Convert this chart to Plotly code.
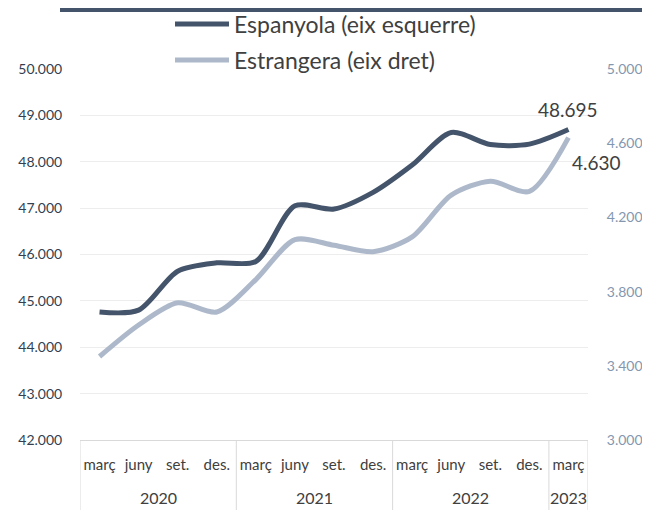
import plotly.graph_objects as go

years = ["2020"] * 4 + ["2021"] * 4 + ["2022"] * 4 + ["2023"]
quarters = ["març", "juny", "set.", "des."] * 3 + ["març"]
espanyola = [44760, 44800, 45640, 45820, 45850, 47050, 46980, 47340, 47930, 48630, 48370, 48380, 48695]
estrangera = [3450, 3620, 3740, 3690, 3865, 4080, 4050, 4015, 4095, 4320, 4395, 4340, 4630]
left_ticks = list(range(42000, 50001, 1000))
right_ticks = [3000, 3400, 3800, 4200, 4600, 5000]

FONT = "Lato"
DARK = "#44546A"
LIGHT = "#ADB9CA"
GRIDC = "#D9D9D9"

# page body has an 8px margin: figure is sized/placed to compensate
W, H = 642, 502
ML, MR, MT, MB = 72, 62, 61, 70
PH = H - MT - MB
PW = W - ML - MR

def fmt(v):
    return f"{v:,}".replace(",", ".")

idx = list(range(len(quarters)))

fig = go.Figure()
fig.add_trace(go.Scatter(
    x=idx, y=espanyola, mode="lines", name="Espanyola (eix esquerre)",
    line=dict(color=DARK, width=5, shape="spline", smoothing=0.8),
    legendgroup="a", yaxis="y"))
fig.add_trace(go.Scatter(
    x=idx, y=estrangera, mode="lines", name="Estrangera (eix dret)",
    line=dict(color=LIGHT, width=5, shape="spline", smoothing=0.8),
    legendgroup="b", yaxis="y2"))

fig.add_annotation(x=idx[-1], y=espanyola[-1], xref="x", yref="y",
                   text=fmt(espanyola[-1]), showarrow=False, yshift=20,
                   font=dict(family=FONT, size=19, color="#404040"))
fig.add_annotation(x=idx[-1], y=estrangera[-1], xref="x", yref="y2",
                   text=fmt(estrangera[-1]), showarrow=False, xshift=28, yshift=-25,
                   font=dict(family=FONT, size=19, color="#404040"))

# year group labels and dividers
uniq_years = []
for y in years:
    if y not in uniq_years:
        uniq_years.append(y)
bottom = -(MB + 10) / PH
for yr in uniq_years:
    ii = [i for i, y in enumerate(years) if y == yr]
    fig.add_annotation(x=sum(ii) / len(ii), y=-(57 / PH), xref="x", yref="paper",
                       text=yr, showarrow=False, yanchor="middle",
                       font=dict(family=FONT, size=16, color="#404040"))
    fig.add_shape(type="line", xref="x", yref="paper", x0=ii[0] - 0.5, x1=ii[0] - 0.5,
                  y0=0, y1=bottom, line=dict(color=GRIDC, width=1))
fig.add_shape(type="line", xref="x", yref="paper", x0=idx[-1] + 0.5, x1=idx[-1] + 0.5,
              y0=0, y1=bottom, line=dict(color=GRIDC, width=1))

# top dark band
fig.add_shape(type="rect", xref="paper", yref="paper", layer="below",
              x0=(52 - ML) / PW, x1=1.3,
              y0=1 + (MT - 4) / PH, y1=1.3, fillcolor=DARK, line_width=0)

fig.update_layout(
    width=W, height=H,
    margin=dict(l=ML, r=MR, t=MT, b=MB, autoexpand=False),
    paper_bgcolor="white", plot_bgcolor="white",
    separators=",.",
    font=dict(family=FONT, size=14, color="#404040"),
    showlegend=True,
    legend=dict(x=(162 - ML) / PW, y=1.179, xanchor="left", yanchor="top",
                font=dict(family=FONT, size=23, color="#404040"),
                traceorder="grouped", tracegroupgap=3, itemwidth=54,
                bgcolor="rgba(0,0,0,0)"),
    xaxis=dict(range=[-0.5, len(quarters) - 0.5], tickvals=idx, ticktext=quarters,
               showgrid=False, showline=True, linecolor=GRIDC, linewidth=1,
               zeroline=False, automargin=False, ticks="", tickangle=0,
               ticklabelstandoff=11,
               tickfont=dict(family=FONT, size=15, color="#404040")),
    yaxis=dict(range=[42000, 50000], tickvals=left_ticks, tickformat=",d",
               showgrid=True, gridcolor="#EDEDED", gridwidth=1, zeroline=False,
               automargin=False, ticks="outside", ticklen=14,
               tickcolor="rgba(0,0,0,0)",
               tickfont=dict(family=FONT, size=14, color="#333F50")),
    yaxis2=dict(range=[3000, 5000], tickvals=right_ticks, tickformat=",d",
                overlaying="y", side="right", showgrid=False, zeroline=False,
                automargin=False, ticks="outside", ticklen=15,
                tickcolor="rgba(0,0,0,0)",
                tickfont=dict(family=FONT, size=14, color="#8497B0")),
)

fig.write_html("out.html")
